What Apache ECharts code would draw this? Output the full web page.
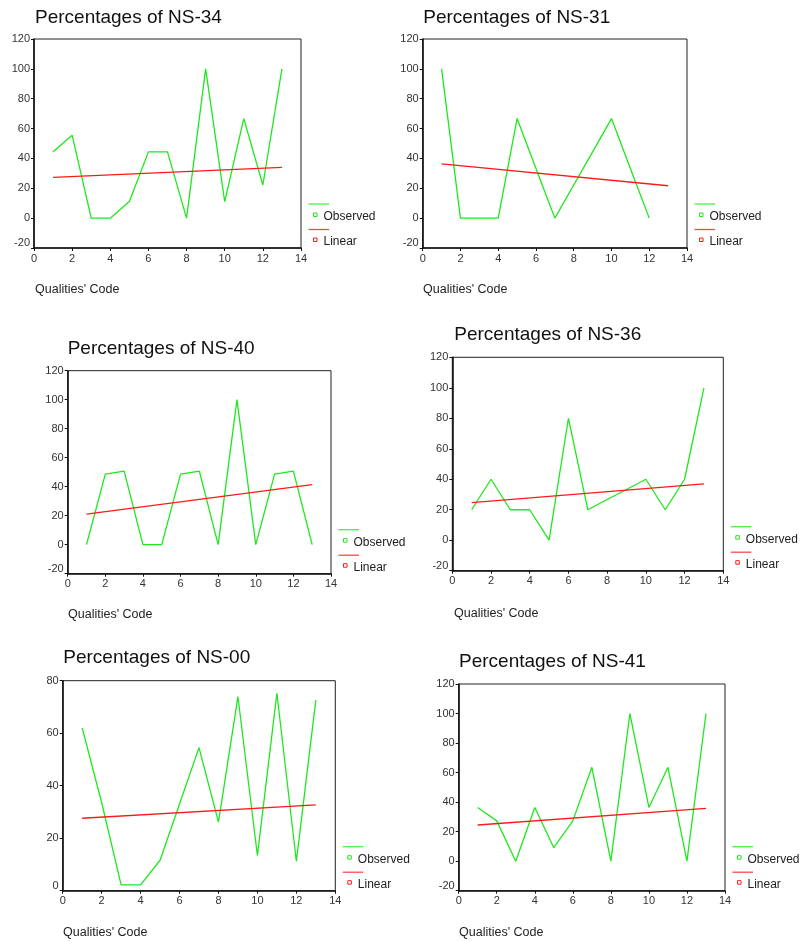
<!DOCTYPE html>
<html>
<head>
<meta charset="utf-8">
<title>Percentages of NS</title>
<script src="https://cdn.jsdelivr.net/npm/echarts@6/dist/echarts.min.js"></script>
<style>
  html, body { margin: 0; padding: 0; background: #fff; }
  #chart { width: 801px; height: 941px; }
</style>
</head>
<body>
<div id="chart"></div>
<script>
// Observed percentages per quality code.
const codes = [1, 2, 3, 4, 5, 6, 7, 8, 9, 10, 11, 12, 13]
// the linear fit is a straight line, so only its two ends are kept
const fitCodes = [1, 13]

const ns34 = [44.4, 55.6, 0, 0, 11.1, 44.4, 44.4, 0, 100, 11.1, 66.7, 22.2, 100]
const ns34Fit = [27.3, 34.0]
const ns31 = [100, 0, 0, 0, 66.7, 33.3, 0, 22.2, 44.4, 66.7, 33.3, 0]
const ns31Fit = [36.4, 21.7]
const ns40 = [0, 48.7, 50.8, 0, 0, 48.7, 50.8, 0, 100, 0, 48.7, 50.8, 0]
const ns40Fit = [21.1, 41.4]
const ns36 = [20, 40, 20, 20, 0, 80, 20, 26.7, 33.3, 40, 20, 40, 100]
const ns36Fit = [24.6, 36.9]
const ns00 = [62.0, 33.6, 2.2, 2.2, 11.6, 33.0, 54.5, 26.1, 73.9, 13.4, 75.2, 11.2, 72.6]
const ns00Fit = [27.6, 32.7]
const ns41 = [36.4, 27.3, 0, 36.4, 9.1, 27.3, 63.6, 0, 100, 36.4, 63.6, 0, 100]
const ns41Fit = [24.5, 35.8]

// tick labels
const xTicks = [0, 2, 4, 6, 8, 10, 12, 14]
const yTicks = [-20, 0, 20, 40, 60, 80, 100, 120]
const yTicksNs00 = [0, 20, 40, 60, 80]

const panels = [
  { name: 'NS-34', obs: ns34, fit: ns34Fit, yTicks: yTicks },
  { name: 'NS-31', obs: ns31, fit: ns31Fit, yTicks: yTicks },
  { name: 'NS-40', obs: ns40, fit: ns40Fit, yTicks: yTicks },
  { name: 'NS-36', obs: ns36, fit: ns36Fit, yTicks: yTicks },
  { name: 'NS-00', obs: ns00, fit: ns00Fit, yTicks: yTicksNs00 },
  { name: 'NS-41', obs: ns41, fit: ns41Fit, yTicks: yTicks },
]

// plot boxes (the six charts are not aligned)
const boxes = [
  { left: 34, top: 39, width: 267, height: 209, titleX: 35, titleY: 17.8, codeX: 35, codeY: 290 },
  { left: 422.7, top: 39, width: 264.3, height: 209, titleX: 423.3, titleY: 17.8, codeX: 423, codeY: 290 },
  { left: 67.7, top: 370.7, width: 263.3, height: 203, titleX: 67.7, titleY: 349.7, codeX: 68, codeY: 615 },
  { left: 452.3, top: 357.3, width: 271, height: 213.4, titleX: 454.3, titleY: 335.2, codeX: 454, codeY: 614 },
  { left: 62.7, top: 680.7, width: 272.6, height: 210, titleX: 63.3, titleY: 658.3, codeX: 63, codeY: 933 },
  { left: 458.7, top: 684, width: 266.3, height: 206.7, titleX: 459, titleY: 662.7, codeX: 459, codeY: 933 },
]

const FONT = '"Liberation Sans", Arial, sans-serif'
const GREEN = '#1ee81e'
const RED = '#ff1a1a'

const grid = []
const xAxis = []
const yAxis = []
const series = []
const title = []
const graphic = []

panels.forEach((p, i) => {
  const b = boxes[i]
  const yMin = p.yTicks[0]
  const yMax = p.yTicks[p.yTicks.length - 1]

  grid.push({
    left: b.left, top: b.top, width: b.width, height: b.height,
    show: true, borderColor: '#222', borderWidth: 1, backgroundColor: 'transparent',
  })

  xAxis.push({
    type: 'value', gridIndex: i,
    min: xTicks[0], max: xTicks[xTicks.length - 1], interval: xTicks[1] - xTicks[0],
    axisLine: { show: true, onZero: false, lineStyle: { color: '#111', width: 1.6 } },
    axisTick: { show: true, length: 3, lineStyle: { color: '#111' } },
    axisLabel: { color: '#333', fontSize: 11, fontFamily: FONT, margin: 5 },
    splitLine: { show: false },
  })

  yAxis.push({
    type: 'value', gridIndex: i,
    min: yMin, max: yMax, interval: p.yTicks[1] - p.yTicks[0],
    axisLine: { show: true, onZero: false, lineStyle: { color: '#111', width: 1.6 } },
    axisTick: { show: true, length: 3, lineStyle: { color: '#111' } },
    axisLabel: {
      color: '#333', fontSize: 11, fontFamily: FONT, margin: 4,
      // SPSS nudges the lowest label up off the corner
      formatter: (v) => (v === yMin ? '{lift|' + v + '}' : String(v)),
      rich: { lift: { color: '#333', fontSize: 11, fontFamily: FONT, padding: [0, 0, 10, 0] } },
    },
    splitLine: { show: false },
  })

  series.push({
    name: 'Observed', type: 'line', xAxisIndex: i, yAxisIndex: i,
    data: p.obs.map((v, k) => [codes[k], v]),
    showSymbol: false, silent: true,
    lineStyle: { color: GREEN, width: 1.3 },
    itemStyle: { color: GREEN },
  })
  series.push({
    name: 'Linear', type: 'line', xAxisIndex: i, yAxisIndex: i,
    data: p.fit.map((v, k) => [fitCodes[k], v]),
    showSymbol: false, silent: true,
    lineStyle: { color: RED, width: 1.3 },
    itemStyle: { color: RED },
  })

  title.push({
    text: 'Percentages of ' + p.name,
    left: b.titleX, top: b.titleY - 10, padding: 0,
    textStyle: { fontSize: 19, fontWeight: 'normal', color: '#111', fontFamily: FONT },
  })

  graphic.push({
    type: 'text', x: b.codeX, y: b.codeY,
    style: { text: "Qualities' Code", font: '12.5px ' + FONT, fill: '#222', verticalAlign: 'middle', textVerticalAlign: 'middle' },
  })

  // SPSS style legend: line sample, then marker + label underneath
  const r = b.left + b.width
  const bot = b.top + b.height
  const entries = [
    { label: 'Observed', color: GREEN, lineY: bot - 44, rowY: bot - 31.5 },
    { label: 'Linear', color: RED, lineY: bot - 18.5, rowY: bot - 6.5 },
  ]
  entries.forEach((e) => {
    graphic.push({
      type: 'line', shape: { x1: r + 7.5, y1: e.lineY, x2: r + 28, y2: e.lineY },
      style: { stroke: e.color, lineWidth: 1.3, opacity: 0.8 },
    })
    graphic.push({
      type: 'rect', shape: { x: r + 12.5, y: e.rowY - 3.5, width: 3.5, height: 3.5 },
      style: { fill: '#fff', stroke: e.color, lineWidth: 1 },
    })
    graphic.push({
      type: 'text', x: r + 22.5, y: e.rowY,
      style: { text: e.label, font: '12px ' + FONT, fill: '#222', verticalAlign: 'middle', textVerticalAlign: 'middle' },
    })
  })
})

const chart = echarts.init(document.getElementById('chart'), null, { renderer: 'canvas' })
chart.setOption({
  backgroundColor: '#fff',
  animation: false,
  title: title,
  grid: grid,
  xAxis: xAxis,
  yAxis: yAxis,
  series: series,
  graphic: graphic,
})
</script>
</body>
</html>
